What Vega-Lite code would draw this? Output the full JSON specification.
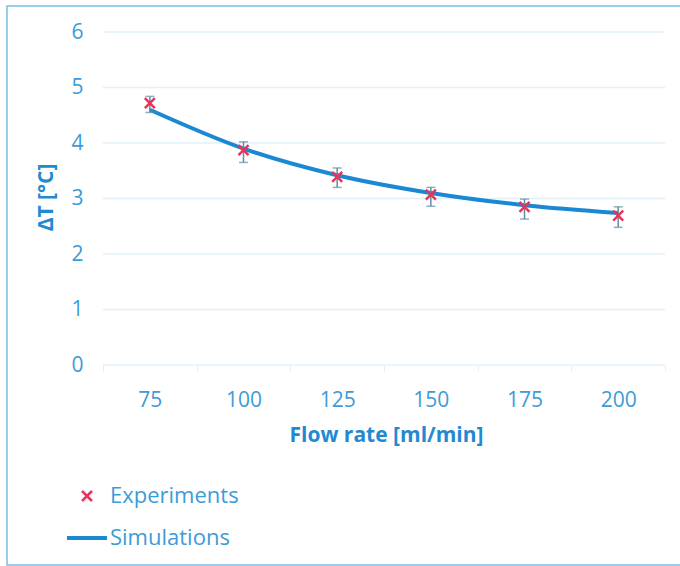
{
  "$schema": "https://vega.github.io/schema/vega-lite/v6.json",
  "width": 700,
  "height": 559,
  "autosize": {"type": "none"},
  "padding": {"left": 7, "top": 6, "right": 0, "bottom": 1},
  "background": "white",
  "config": {
    "view": {"stroke": "#7dbde9", "strokeWidth": 1.5},
    "font": "Open Sans"
  },
  "data": {
    "values": [
      {"flow": "75", "exp": 4.72, "lo": 4.55, "hi": 4.84, "sim": 4.6},
      {"flow": "100", "exp": 3.87, "lo": 3.65, "hi": 4.02, "sim": 3.9},
      {"flow": "125", "exp": 3.39, "lo": 3.2, "hi": 3.55, "sim": 3.42},
      {"flow": "150", "exp": 3.07, "lo": 2.86, "hi": 3.2, "sim": 3.1},
      {"flow": "175", "exp": 2.85, "lo": 2.63, "hi": 2.99, "sim": 2.88},
      {"flow": "200", "exp": 2.69, "lo": 2.48, "hi": 2.85, "sim": 2.74}
    ]
  },
  "encoding": {
    "x": {
      "field": "flow",
      "type": "ordinal",
      "sort": ["75", "100", "125", "150", "175", "200"],
      "scale": {"paddingInner": 0, "paddingOuter": 0.7366, "align": 0.6957},
      "axis": {
        "title": "Flow rate [ml/min]",
        "titleColor": "#1f8ad2",
        "titleFontSize": 21,
        "titleFontWeight": "bold",
        "titlePadding": 14,
        "titleX": 379,
        "labelColor": "#3d9bd8",
        "labelFontSize": 21,
        "labelAngle": 0,
        "labelPadding": 18,
        "offset": -200,
        "domain": false,
        "ticks": true,
        "tickBand": "extent",
        "tickColor": "#e2eff9",
        "tickSize": 6,
        "grid": false
      }
    }
  },
  "layer": [
    {
      "data": {"values": [{"v": 0}, {"v": 1}, {"v": 2}, {"v": 3}, {"v": 4}, {"v": 5}, {"v": 6}]},
      "mark": {"type": "rule", "color": "#e3f0fa", "strokeWidth": 1.5},
      "encoding": {
        "x": {"datum": "75", "type": "ordinal", "bandPosition": 0},
        "x2": {"datum": "200", "bandPosition": 1},
        "y": {"field": "v", "type": "quantitative"}
      }
    },
    {
      "mark": {"type": "line", "interpolate": "monotone", "strokeWidth": 4},
      "encoding": {
        "y": {
          "field": "sim",
          "type": "quantitative",
          "scale": {"domain": [-3.6036, 6.4685], "nice": false, "zero": false},
          "axis": {
            "title": "ΔT [°C]",
            "titleColor": "#1f8ad2",
            "titleFontSize": 21,
            "titleFontWeight": "bold",
            "titlePadding": 14,
            "titleY": 191,
            "labelColor": "#3d9bd8",
            "labelFontSize": 21,
            "labelPadding": 20,
            "offset": -96,
            "format": "d",
            "values": [0, 1, 2, 3, 4, 5, 6],
            "domain": false,
            "ticks": false,
            "grid": false
          }
        },
        "stroke": {
          "datum": "Simulations",
          "type": "nominal",
          "scale": {"range": ["#1a88d2"]},
          "legend": {
            "title": null,
            "orient": "none",
            "legendX": 58,
            "legendY": 510,
            "symbolType": "stroke",
            "symbolSize": 1600,
            "symbolStrokeWidth": 4,
            "labelFontSize": 22,
            "labelColor": "#3d9bd8",
            "labelOffset": 1
          }
        }
      }
    },
    {
      "mark": {"type": "rule", "strokeWidth": 1.5, "color": "#5f8ea3"},
      "encoding": {
        "y": {"field": "lo", "type": "quantitative"},
        "y2": {"field": "hi"}
      }
    },
    {
      "mark": {"type": "tick", "thickness": 1.5, "size": 9, "color": "#5f8ea3", "orient": "horizontal"},
      "encoding": {
        "y": {"field": "lo", "type": "quantitative"}
      }
    },
    {
      "mark": {"type": "tick", "thickness": 1.5, "size": 9, "color": "#5f8ea3", "orient": "horizontal"},
      "encoding": {
        "y": {"field": "hi", "type": "quantitative"}
      }
    },
    {
      "mark": {
        "type": "point",
        "shape": "M-1,-1L1,1M-1,1L1,-1",
        "size": 100,
        "filled": false,
        "strokeWidth": 2.5,
        "opacity": 1
      },
      "encoding": {
        "y": {"field": "exp", "type": "quantitative"},
        "color": {
          "datum": "Experiments",
          "type": "nominal",
          "scale": {"range": ["#e8335a"]},
          "legend": {
            "title": null,
            "orient": "none",
            "legendX": 69,
            "legendY": 479,
            "symbolType": "M-1,-1L1,1M-1,1L1,-1",
            "symbolSize": 100,
            "symbolStrokeWidth": 2.5,
            "symbolFillColor": "transparent",
            "labelFontSize": 22,
            "labelColor": "#3d9bd8",
            "labelOffset": 12
          }
        }
      }
    }
  ]
}
